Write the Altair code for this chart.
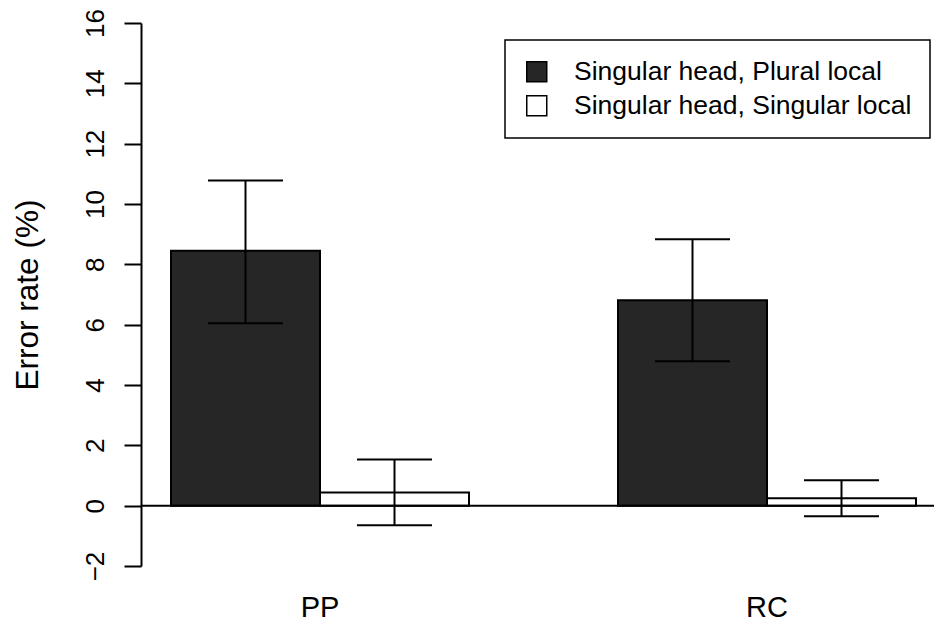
import altair as alt
import pandas as pd

groups = ["PP", "PP", "RC", "RC"]
conds = ["Singular head, Plural local", "Singular head, Singular local",
         "Singular head, Plural local", "Singular head, Singular local"]
means = [8.45, 0.44, 6.81, 0.25]
lows = [6.05, -0.65, 4.79, -0.35]
highs = [10.78, 1.53, 8.83, 0.84]
y_ticks = [-2, 0, 2, 4, 6, 8, 10, 12, 14, 16]
cond_order = ["Singular head, Plural local", "Singular head, Singular local"]
fills = ["#262626", "#ffffff"]

df = pd.DataFrame({"group": groups, "cond": conds, "mean": means, "lo": lows, "hi": highs})

FONT = "Liberation Sans"

xenc = alt.X("group:N", title=None,
             scale=alt.Scale(paddingInner=1/3, paddingOuter=0.0537, align=0.625),
             axis=alt.Axis(domain=False, ticks=False, tickSize=0, labelAngle=0,
                           labelFontSize=29, labelPadding=27, labelColor="black",
                           labelFont=FONT))
xoff = alt.XOffset("cond:N", scale=alt.Scale(domain=cond_order, paddingInner=0, paddingOuter=0))
yscale = alt.Scale(domain=[-2, 16], nice=False, zero=False)

base = alt.Chart(df)

bars = base.mark_bar(stroke="black", strokeWidth=2, opacity=1).encode(
    x=xenc,
    xOffset=xoff,
    y=alt.Y("mean:Q", scale=yscale, title="Error rate (%)",
            axis=alt.Axis(values=y_ticks, grid=False, tickSize=17, tickWidth=2,
                          tickColor="black", domainColor="black", domainWidth=2,
                          labelFontSize=26, labelAngle=270, labelAlign="center",
                          labelBaseline="alphabetic", labelPadding=21, labelColor="black",
                          labelFont=FONT,
                          titleFontSize=31.5, titleFontWeight="normal", titleAngle=270,
                          titleX=-104, titleY=271.5, titleAlign="center",
                          titleBaseline="alphabetic", titleColor="black", titleFont=FONT)),
    y2=alt.datum(0),
    fill=alt.Fill("cond:N", scale=alt.Scale(domain=cond_order, range=fills),
                  legend=alt.Legend(title=None, orient="none", legendX=364, legendY=17,
                                    labelFontSize=26.5, labelFont=FONT, labelColor="black",
                                    labelLimit=600, symbolType="square", symbolSize=400,
                                    symbolStrokeColor="black", symbolStrokeWidth=1.5,
                                    padding=18.5, rowPadding=7, labelOffset=24,
                                    strokeColor="black", fillColor="white")),
)

zero = alt.Chart(pd.DataFrame({"z": [0]})).mark_rule(color="black", strokeWidth=2).encode(
    y=alt.Y("z:Q", scale=yscale)
)

err = base.mark_rule(color="black", strokeWidth=2).encode(
    x=xenc, xOffset=xoff,
    y=alt.Y("lo:Q", scale=yscale), y2="hi:Q"
)
cap_hi = base.mark_tick(color="black", size=75, thickness=2, opacity=1).encode(
    x=xenc, xOffset=xoff, y=alt.Y("hi:Q", scale=yscale)
)
cap_lo = base.mark_tick(color="black", size=75, thickness=2, opacity=1).encode(
    x=xenc, xOffset=xoff, y=alt.Y("lo:Q", scale=yscale)
)

chart = alt.layer(bars, zero, err, cap_hi, cap_lo).properties(
    width=793, height=543,
    autosize=alt.AutoSizeParams(type="none"),
    padding={"left": 133, "top": 15, "right": 0, "bottom": 59},
    background="white",
).configure_view(stroke=None).configure_legend(strokeWidth=1.5)

chart.save("out.html", embed_options={"renderer": "svg", "actions": False})
